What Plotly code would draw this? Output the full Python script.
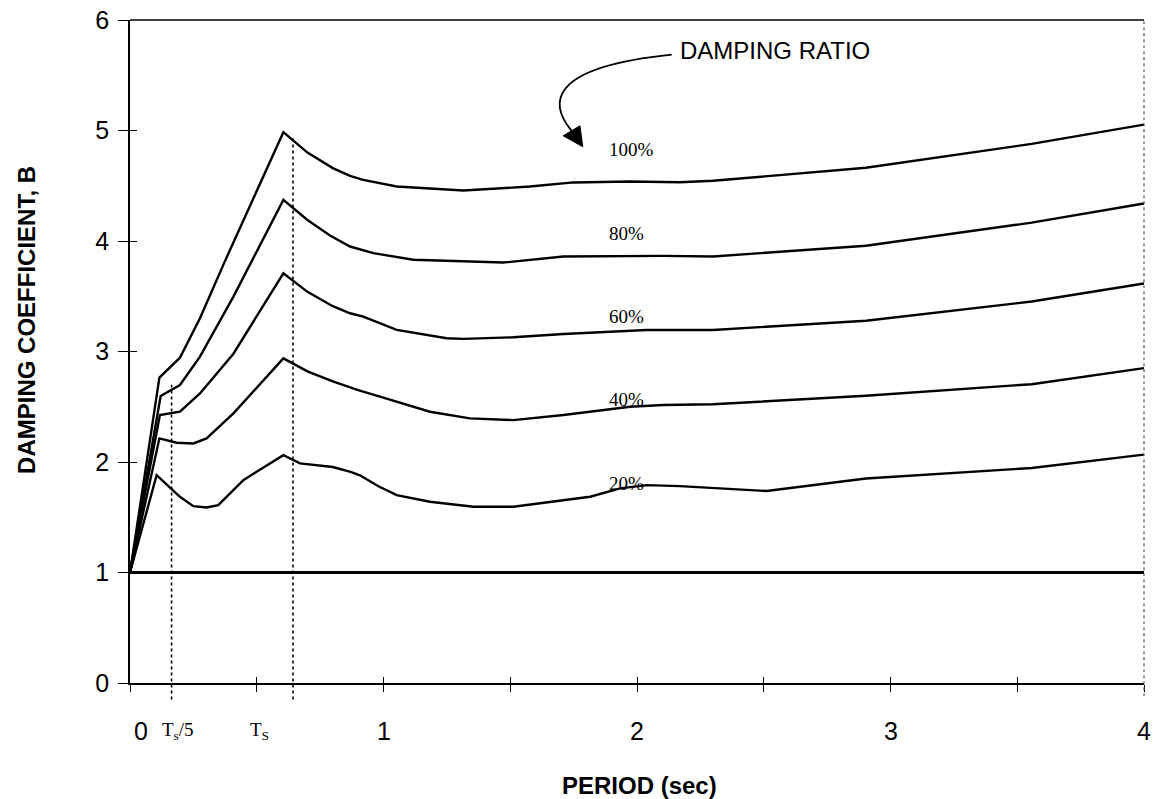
import plotly.graph_objects as go

# ---------------- data ----------------
x_20 = [0, 0.105, 0.197, 0.25, 0.302, 0.348, 0.447, 0.605, 0.671, 0.80, 0.87, 0.907, 0.98, 1.052,
        1.183, 1.355, 1.512, 1.815, 1.933, 2.038, 2.169, 2.367, 2.511, 2.903, 3.557, 4.0]
y_20 = [1, 1.881, 1.685, 1.60, 1.589, 1.61, 1.836, 2.062, 1.987, 1.955, 1.91, 1.88, 1.78, 1.70,
        1.64, 1.595, 1.595, 1.686, 1.761, 1.791, 1.782, 1.752, 1.737, 1.851, 1.946, 2.067]

x_40 = [0, 0.116, 0.184, 0.25, 0.302, 0.408, 0.605, 0.70, 0.80, 0.90, 0.986, 1.183, 1.341,
        1.512, 1.71, 1.972, 2.104, 2.30, 2.903, 3.557, 4.0]
y_40 = [1, 2.214, 2.174, 2.168, 2.214, 2.44, 2.938, 2.82, 2.73, 2.65, 2.591, 2.455, 2.395,
        2.379, 2.425, 2.5, 2.516, 2.522, 2.60, 2.704, 2.85]

x_60 = [0, 0.118, 0.197, 0.276, 0.408, 0.605, 0.70, 0.80, 0.868, 0.92, 1.052, 1.249, 1.315,
        1.512, 1.71, 2.038, 2.30, 2.903, 3.557, 4.0]
y_60 = [1, 2.425, 2.455, 2.62, 2.98, 3.708, 3.54, 3.41, 3.346, 3.316, 3.195, 3.12, 3.114,
        3.129, 3.159, 3.195, 3.195, 3.278, 3.452, 3.616]

x_80 = [0, 0.121, 0.197, 0.276, 0.408, 0.605, 0.70, 0.789, 0.868, 0.96, 1.118, 1.315, 1.473,
        1.71, 2.104, 2.30, 2.903, 3.557, 4.0]
y_80 = [1, 2.597, 2.697, 2.953, 3.497, 4.372, 4.19, 4.05, 3.95, 3.89, 3.83, 3.814, 3.805,
        3.86, 3.865, 3.86, 3.957, 4.166, 4.34]

x_100 = [0, 0.116, 0.197, 0.276, 0.375, 0.473, 0.605, 0.70, 0.80, 0.868, 0.92, 1.052, 1.315,
         1.578, 1.749, 1.972, 2.169, 2.30, 2.903, 3.557, 4.0]
y_100 = [1, 2.763, 2.944, 3.30, 3.82, 4.31, 4.985, 4.80, 4.66, 4.59, 4.553, 4.493, 4.457,
         4.493, 4.53, 4.538, 4.532, 4.545, 4.663, 4.879, 5.053]

x_0 = [0, 4.0]
y_0 = [1, 1]

series_names = ["0%", "20%", "40%", "60%", "80%", "100%"]
series_x = [x_0, x_20, x_40, x_60, x_80, x_100]
series_y = [y_0, y_20, y_40, y_60, y_80, y_100]

# curve labels
label_text = ["20%", "40%", "60%", "80%", "100%"]
label_x = [1.96, 1.96, 1.96, 1.96, 1.98]
label_y = [1.806, 2.567, 3.32, 4.07, 4.825]

# x-axis tick labels
xtick_pos = [0.045, 0.19, 0.51, 1, 2, 3, 4]
xtick_text = ["0", "T<sub>s</sub>/5", "T<sub>S</sub>", "1", "2", "3", "4"]
xtick_serif = [False, True, True, False, False, False, False]

x_ticks = [0, 0.5, 1, 1.5, 2, 2.5, 3, 3.5, 4]
y_ticks = [0, 1, 2, 3, 4, 5, 6]
y_ticktext = ["0", "1", "2", "3", "4", "5", "6"]

ts = 0.643
ts5 = 0.164
ts_top = 4.95
ts5_top = 2.70

XMAX, YMAX = 4.0, 6.0

SANS = "Liberation Sans, Arial, sans-serif"
SERIF = "Liberation Serif, Times New Roman, serif"

fig = go.Figure()
for name, xs, ys in zip(series_names, series_x, series_y):
    fig.add_trace(go.Scatter(x=xs, y=ys, mode="lines", name=name,
                             line=dict(color="black", width=2.8 if name == "0%" else 2.4),
                             showlegend=False, hoverinfo="skip"))
# dummy trace for the overlay axes (inside ticks)
fig.add_trace(go.Scatter(x=[None], y=[None], xaxis="x2", yaxis="y2", showlegend=False))

annotations = []
for t, xv, yv in zip(label_text, label_x, label_y):
    annotations.append(dict(x=xv, y=yv, xref="x", yref="y", text=t, showarrow=False,
                            font=dict(family=SERIF, size=19, color="black"),
                            xanchor="center", yanchor="middle"))
for t, xv, serif in zip(xtick_text, xtick_pos, xtick_serif):
    annotations.append(dict(x=xv, y=-0.072, xref="x", yref="paper", text=t, showarrow=False,
                            font=dict(family=SERIF if serif else SANS,
                                      size=19 if serif else 25, color="black"),
                            xanchor="center", yanchor="middle"))
annotations.append(dict(x=2.162, y=5.725, xref="x", yref="y", text="DAMPING RATIO",
                        showarrow=False, font=dict(family=SANS, size=24, color="black"),
                        xanchor="left", yanchor="middle"))
annotations.append(dict(x=2.01, y=-0.155, xref="x", yref="paper", text="<b>PERIOD (sec)</b>",
                        showarrow=False, font=dict(family=SANS, size=24, color="black"),
                        xanchor="center", yanchor="middle"))
annotations.append(dict(x=-0.102, y=0.547, xref="paper", yref="paper",
                        text="<b>DAMPING COEFFICIENT, B</b>", textangle=-90,
                        showarrow=False, font=dict(family=SANS, size=24, color="black"),
                        xanchor="center", yanchor="middle"))

shapes = []
# dotted reference lines at Ts/5 and Ts
for xv, top in [(ts5, ts5_top), (ts, ts_top)]:
    shapes.append(dict(type="line", xref="paper", yref="paper",
                       x0=xv / XMAX, x1=xv / XMAX, y0=-0.025, y1=top / YMAX,
                       line=dict(color="black", width=1.6, dash="dot")))
# top frame line
shapes.append(dict(type="line", xref="paper", yref="paper", x0=0, x1=1, y0=1, y1=1,
                   line=dict(color="black", width=1.6)))
# right frame line
shapes.append(dict(type="line", xref="paper", yref="paper", x0=1, x1=1, y0=-0.02, y1=1,
                   line=dict(color="#555555", width=1.2, dash="dot")))
# curved arrow
shapes.append(dict(type="path", xref="x", yref="y",
                   path="M 2.137,5.686 C 1.637,5.568 1.657,5.233 1.742,4.997",
                   line=dict(color="black", width=1.8)))
shapes.append(dict(type="path", xref="x", yref="y",
                   path="M 1.786,4.853 L 1.709,4.952 L 1.775,5.043 Z",
                   fillcolor="black", line=dict(color="black", width=1)))

fig.update_layout(
    width=1157, height=799, autosize=False,
    margin=dict(l=130, r=13, t=20, b=116, autoexpand=False),
    paper_bgcolor="white", plot_bgcolor="white",
    showlegend=False,
    annotations=annotations, shapes=shapes,
    xaxis=dict(range=[0, XMAX], showgrid=False, zeroline=False, showline=True,
               linecolor="black", linewidth=1.6, automargin=False,
               tickmode="array", tickvals=x_ticks, ticks="outside", ticklen=7,
               tickcolor="black", tickwidth=1, showticklabels=False, fixedrange=True),
    yaxis=dict(range=[0, YMAX], showgrid=False, zeroline=False, showline=True,
               linecolor="black", linewidth=1.6, automargin=False,
               tickmode="array", tickvals=y_ticks, ticktext=y_ticktext,
               ticks="outside", ticklen=10, tickcolor="black", tickwidth=1,
               tickfont=dict(family=SANS, size=25, color="black"),
               ticklabelstandoff=4, ticklabeloverflow="allow", fixedrange=True),
    xaxis2=dict(range=[0, XMAX], overlaying="x", anchor="y", side="bottom",
                showgrid=False, zeroline=False, showline=False, automargin=False,
                tickmode="array", tickvals=x_ticks, ticks="inside", ticklen=6,
                tickcolor="black", tickwidth=1, showticklabels=False),
    yaxis2=dict(range=[0, YMAX], overlaying="y", anchor="x", side="left",
                showgrid=False, zeroline=False, showline=False, automargin=False,
                tickmode="array", tickvals=y_ticks, ticks="inside", ticklen=7,
                tickcolor="black", tickwidth=1, showticklabels=False),
)

fig.write_html("out.html",
               config={"displayModeBar": False},
               post_script="document.body.style.margin='0';document.body.style.overflow='hidden';")
